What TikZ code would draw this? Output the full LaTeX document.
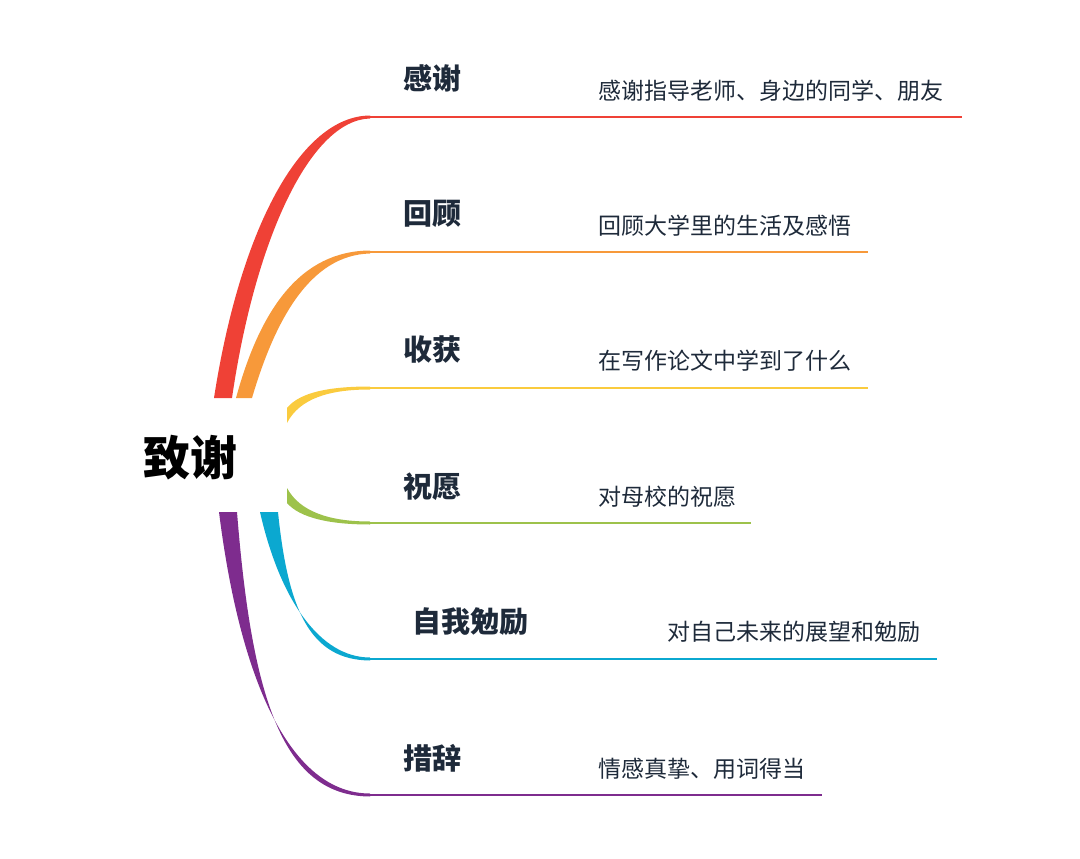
\documentclass[tikz,border=0pt]{standalone}
\usepackage{fontspec}
\setmainfont{Noto Sans CJK SC}
\begin{document}
\begin{tikzpicture}[x=1pt,y=-1pt]
\definecolor{cr}{HTML}{EF4136}\definecolor{co}{HTML}{F7993A}\definecolor{cy}{HTML}{FACB3E}
\definecolor{cg}{HTML}{9DC24B}\definecolor{cb}{HTML}{0BA8D0}\definecolor{cp}{HTML}{7E2C8E}
\definecolor{tx}{HTML}{1E2A3A}
\tikzset{title/.style={anchor=west,font=\fontsize{29}{32}\selectfont\bfseries,text=tx,inner sep=0},
desc/.style={anchor=west,font=\fontsize{23}{26}\selectfont,text=tx,inner sep=0},
ln/.style={line width=2.5pt}}
\useasboundingbox (0,0) rectangle (1080,859);
\node[inner sep=0,font=\fontsize{47}{50}\selectfont\bfseries] (root) at (190,458) {致谢};
% branches
\fill[cr] (214,398) .. controls (240,230) and (300,116) .. (370,115.5) -- (370,118.5) .. controls (310,120) and (255,240) .. (232,398) -- cycle;
\fill[co] (236,398) .. controls (260,310) and (300,251) .. (370,250.5) -- (370,253.5) .. controls (310,255) and (275,320) .. (252,398) -- cycle;
\fill[cy] (287,408) .. controls (300,392) and (330,386.5) .. (370,386.5) -- (370,389.5) .. controls (330,389.5) and (300,398) .. (287,423) -- cycle;
\fill[cg] (287,488) .. controls (300,512) and (330,521.5) .. (370,521.5) -- (370,524.5) .. controls (330,524.5) and (300,518) .. (287,503) -- cycle;
\fill[cb] (260,512) .. controls (280,600) and (320,657.5) .. (370,657.5) -- (370,660.5) .. controls (310,660) and (288,610) .. (278,512) -- cycle;
\fill[cp] (219,512) .. controls (240,680) and (290,793.5) .. (370,793.5) -- (370,796.5) .. controls (283,796) and (252,700) .. (237,512) -- cycle;
% lines
\coordinate (r0) at (369,117); \coordinate (r1) at (962,117);
\coordinate (o0) at (369,252); \coordinate (o1) at (868,252);
\coordinate (y0) at (369,388); \coordinate (y1) at (868,388);
\coordinate (g0) at (369,523); \coordinate (g1) at (751,523);
\coordinate (b0) at (369,659); \coordinate (b1) at (937,659);
\coordinate (p0) at (369,795); \coordinate (p1) at (822,795);
\draw[ln,cr] (r0)--(r1); \draw[ln,co] (o0)--(o1); \draw[ln,cy] (y0)--(y1);
\draw[ln,cg] (g0)--(g1); \draw[ln,cb] (b0)--(b1); \draw[ln,cp] (p0)--(p1);
% titles
\node[title] (t1) at (403,78) {感谢};
\node[title] (t2) at (403,214) {回顾};
\node[title] (t3) at (403,350) {收获};
\node[title] (t4) at (403,487) {祝愿};
\node[title] (t5) at (412,622) {自我勉励};
\node[title] (t6) at (403,758) {措辞};
\node[desc] (d1) at (598,91) {感谢指导老师、身边的同学、朋友};
\node[desc] (d2) at (598,226) {回顾大学里的生活及感悟};
\node[desc] (d3) at (598,361) {在写作论文中学到了什么};
\node[desc] (d4) at (598,497) {对母校的祝愿};
\node[desc] (d5) at (667,632) {对自己未来的展望和勉励};
\node[desc] (d6) at (598,769) {情感真挚、用词得当};
\end{tikzpicture}
\end{document}
